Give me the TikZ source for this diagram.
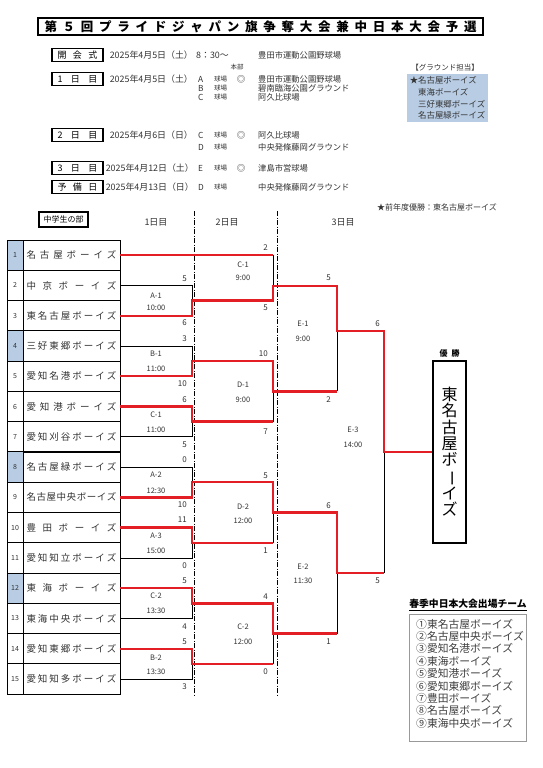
\documentclass[tikz,border=0pt]{standalone}
\usepackage{fontspec}
\setmainfont{Noto Sans CJK JP}
\usetikzlibrary{positioning}
\definecolor{RedW}{HTML}{E31E24}
\definecolor{BlueC}{HTML}{B8CCE4}
\definecolor{GrayT}{HTML}{333333}
\def\spreadfirst#1{#1\spreadrest}
\def\spreadrest#1{\ifx\relax#1\else\hfil#1\expandafter\spreadrest\fi}
\newcommand\spreadtext[2]{\makebox[#1][s]{\spreadfirst#2\relax}}
\tikzset{
  titlebox/.style={draw, line width=1.1pt, minimum width=445pt, minimum height=17pt, inner sep=0pt, font=\bfseries\fontsize{12.5}{13}\selectfont},
  daybox/.style={draw, line width=1.2pt, minimum width=51pt, minimum height=13pt, inner sep=0pt, font=\fontsize{9}{9}\selectfont},
  info/.style={anchor=west, inner sep=0pt, font=\fontsize{8.3}{9}\selectfont, text=GrayT},
  dateinfo/.style={info, font=\fontsize{8.9}{9}\selectfont},
  small/.style={inner sep=0pt, font=\fontsize{6.5}{7}\selectfont, text=GrayT},
  hqmark/.style={inner sep=0pt, font=\fontsize{8.5}{9}\selectfont, text=GrayT},
  gbox/.style={fill=BlueC, align=left, minimum width=81pt, minimum height=48pt, inner sep=1pt, font=\fontsize{8.4}{11.7}\selectfont, text=GrayT},
  namecell/.style={draw, line width=0.8pt, minimum width=97pt, minimum height=30.27pt, inner sep=0pt, font=\fontsize{9.5}{10}\selectfont, text=GrayT},
  numcell/.style={draw, line width=0.8pt, minimum width=16pt, minimum height=30.27pt, inner sep=0pt, font=\fontsize{7}{7}\selectfont, text=GrayT},
  seed/.style={fill=BlueC},
  head/.style={inner sep=0pt, font=\fontsize{9}{9}\selectfont, text=GrayT},
  lost/.style={draw=black, line width=0.7pt},
  won/.style={draw=RedW, line width=2.4pt, line join=miter},
  daysep/.style={draw=black, line width=0.6pt, dash pattern=on 5pt off 1.5pt on 1pt off 1.5pt},
  score/.style={anchor=east, inner sep=0pt, font=\fontsize{8}{8}\selectfont, text=GrayT},
  mlab/.style={inner sep=0pt, font=\fontsize{7.5}{8}\selectfont, text=GrayT},
  champ/.style={draw, line width=1.6pt, minimum width=33pt, minimum height=182pt, inner sep=0pt, align=center, font=\fontsize{16}{16.2}\selectfont},
  listbox/.style={draw=black!40, line width=0.6pt, minimum width=117pt, minimum height=127pt},
  listtxt/.style={anchor=west, align=left, inner sep=0pt, font=\fontsize{10.8}{12.4}\selectfont, text=black!75}
}

\begin{document}
\begin{tikzpicture}[x=1pt, y=-1pt]
  \useasboundingbox (0,0) rectangle (543,768);
  \fill[white] (0,0) rectangle (543,768);

  % title
  \node[titlebox] (title) at (260.5,26.5) {\spreadtext{432pt}{第５回プライドジャパン旗争奪大会兼中日本大会予選}};

  % schedule
  \node[daybox] (d0) at (77.5,55) {\spreadtext{40pt}{開会式}};
  \node[dateinfo, right=6pt of d0] (dt0) {2025年4月5日（土）};
  \node[dateinfo] (tm0) at (196,55) {8：30～};
  \node[info] (v0) at (258,55) {豊田市運動公園野球場};
  \node[small] (hq) at (237,67) {本部};

  \node[daybox] (d1) at (77.5,79) {\spreadtext{40pt}{1日目}};
  \node[dateinfo, right=6pt of d1] (dt1) {2025年4月5日（土）};
  \node[info] (f1a) at (198,79) {A};
  \node[small, anchor=west] (k1a) at (214,79) {球場};
  \node[hqmark] (m1) at (241,79) {◎};
  \node[info] (v1a) at (258,79) {豊田市運動公園野球場};
  \node[info] (f1b) at (198,88) {B};
  \node[small, anchor=west] (k1b) at (214,88) {球場};
  \node[info] (v1b) at (258,88) {碧南臨海公園グラウンド};
  \node[info] (f1c) at (198,97) {C};
  \node[small, anchor=west] (k1c) at (214,97) {球場};
  \node[info] (v1c) at (258,97) {阿久比球場};

  \node[daybox] (d2) at (77.5,135) {\spreadtext{40pt}{2日目}};
  \node[dateinfo, right=6pt of d2] (dt2) {2025年4月6日（日）};
  \node[info] (f2c) at (198,135) {C};
  \node[small, anchor=west] (k2c) at (214,135) {球場};
  \node[hqmark] (m2) at (241,135) {◎};
  \node[info] (v2c) at (258,135) {阿久比球場};
  \node[info] (f2d) at (198,147) {D};
  \node[small, anchor=west] (k2d) at (214,147) {球場};
  \node[info] (v2d) at (258,147) {中央発條藤岡グラウンド};

  \node[daybox] (d3) at (77.5,168) {\spreadtext{40pt}{3日目}};
  \node[dateinfo, right=2pt of d3] (dt3) {2025年4月12日（土）};
  \node[info] (f3e) at (198,168) {E};
  \node[small, anchor=west] (k3e) at (214,168) {球場};
  \node[hqmark] (m3) at (241,168) {◎};
  \node[info] (v3e) at (258,168) {津島市営球場};

  \node[daybox] (d4) at (77.5,187) {\spreadtext{40pt}{予備日}};
  \node[dateinfo, right=2pt of d4] (dt4) {2025年4月13日（日）};
  \node[info] (f4d) at (198,187) {D};
  \node[small, anchor=west] (k4d) at (214,187) {球場};
  \node[info] (v4d) at (258,187) {中央発條藤岡グラウンド};

  % ground duty
  \node[gbox] (grnd) at (447.5,98) {★名古屋ボーイズ\\\hspace*{1em}東海ボーイズ\\\hspace*{1em}三好東郷ボーイズ\\\hspace*{1em}名古屋緑ボーイズ};
  \node[inner sep=0pt, font=\fontsize{7.5}{8}\selectfont, text=GrayT] (gtitle) at (445,68) {【グラウンド担当】};
  \node[inner sep=0pt, font=\fontsize{8}{8}\selectfont, text=GrayT, anchor=east] (prev) at (497,207) {★前年度優勝：東名古屋ボーイズ};

  % bracket head
  \node[draw, line width=1.5pt, minimum width=49pt, minimum height=15pt, inner sep=0pt, font=\fontsize{8}{8}\selectfont] (bu) at (63.5,219.5) {中学生の部};
  \node[head] (h1) at (156,222) {1日目};
  \node[head] (h2) at (227,222) {2日目};
  \node[head] (h3) at (343,222) {3日目};
  \coordinate (s1t) at (194,211);
  \coordinate (s1b) at (194,697);
  \coordinate (s2t) at (277,211);
  \coordinate (s2b) at (277,697);
  \draw[daysep] (s1t) -- (s1b);
  \draw[daysep] (s2t) -- (s2b);

  % teams
  \node[numcell, seed] (n1) at (15,255.1) {1};
  \node[numcell] (n2) at (15,285.4) {2};
  \node[numcell] (n3) at (15,315.7) {3};
  \node[numcell, seed] (n4) at (15,346.0) {4};
  \node[numcell] (n5) at (15,376.2) {5};
  \node[numcell] (n6) at (15,406.5) {6};
  \node[numcell] (n7) at (15,436.8) {7};
  \node[numcell, seed] (n8) at (15,467.0) {8};
  \node[numcell] (n9) at (15,497.3) {9};
  \node[numcell] (n10) at (15,527.6) {10};
  \node[numcell] (n11) at (15,557.9) {11};
  \node[numcell, seed] (n12) at (15,588.1) {12};
  \node[numcell] (n13) at (15,618.4) {13};
  \node[numcell] (n14) at (15,648.7) {14};
  \node[numcell] (n15) at (15,678.9) {15};

  \node[namecell] (t1) at (71.5,255.1) {\spreadtext{90pt}{名古屋ボーイズ}};
  \node[namecell] (t2) at (71.5,285.4) {\spreadtext{90pt}{中京ボーイズ}};
  \node[namecell] (t3) at (71.5,315.7) {\spreadtext{90pt}{東名古屋ボーイズ}};
  \node[namecell] (t4) at (71.5,346.0) {\spreadtext{90pt}{三好東郷ボーイズ}};
  \node[namecell] (t5) at (71.5,376.2) {\spreadtext{90pt}{愛知名港ボーイズ}};
  \node[namecell] (t6) at (71.5,406.5) {\spreadtext{90pt}{愛知港ボーイズ}};
  \node[namecell] (t7) at (71.5,436.8) {\spreadtext{90pt}{愛知刈谷ボーイズ}};
  \node[namecell] (t8) at (71.5,467.0) {\spreadtext{90pt}{名古屋緑ボーイズ}};
  \node[namecell] (t9) at (71.5,497.3) {\spreadtext{90pt}{名古屋中央ボーイズ}};
  \node[namecell] (t10) at (71.5,527.6) {\spreadtext{90pt}{豊田ボーイズ}};
  \node[namecell] (t11) at (71.5,557.9) {\spreadtext{90pt}{愛知知立ボーイズ}};
  \node[namecell] (t12) at (71.5,588.1) {\spreadtext{90pt}{東海ボーイズ}};
  \node[namecell] (t13) at (71.5,618.4) {\spreadtext{90pt}{東海中央ボーイズ}};
  \node[namecell] (t14) at (71.5,648.7) {\spreadtext{90pt}{愛知東郷ボーイズ}};
  \node[namecell] (t15) at (71.5,678.9) {\spreadtext{90pt}{愛知知多ボーイズ}};

  % champion
  \node[champ] (champ) at (449.5,452) {東\\名\\古\\屋\\ボ\\\rotatebox[origin=c]{-90}{ー}\\イ\\ズ};
  \node[inner sep=0pt, font=\bfseries\fontsize{8}{8}\selectfont, above=3pt of champ] (yusho) {優\hspace{4pt}勝};

  % bracket points
  \coordinate (pA1t) at (192,285.4);
  \coordinate (pA1b) at (192,315.7);
  \coordinate (pA1o) at (192,300.5);
  \coordinate (pB1t) at (192,346.0);
  \coordinate (pB1b) at (192,376.2);
  \coordinate (pB1o) at (192,361.1);
  \coordinate (pC1t) at (192,406.5);
  \coordinate (pC1b) at (192,436.8);
  \coordinate (pC1o) at (192,421.6);
  \coordinate (pA2t) at (192,467.0);
  \coordinate (pA2b) at (192,497.3);
  \coordinate (pA2o) at (192,482.2);
  \coordinate (pA3t) at (192,527.6);
  \coordinate (pA3b) at (192,557.9);
  \coordinate (pA3o) at (192,542.7);
  \coordinate (pC2t) at (192,588.1);
  \coordinate (pC2b) at (192,618.4);
  \coordinate (pC2o) at (192,603.3);
  \coordinate (pB2t) at (192,648.7);
  \coordinate (pB2b) at (192,678.9);
  \coordinate (pB2o) at (192,663.8);

  \coordinate (qC1t) at (273,255.1);
  \coordinate (qC1b) at (273,300.5);
  \coordinate (qC1o) at (273,286);
  \coordinate (qD1t) at (273,361.1);
  \coordinate (qD1b) at (273,421.6);
  \coordinate (qD1o) at (273,391.4);
  \coordinate (qD2t) at (273,482.2);
  \coordinate (qD2b) at (273,542.7);
  \coordinate (qD2o) at (273,512.5);
  \coordinate (qC2t) at (273,603.3);
  \coordinate (qC2b) at (273,663.8);
  \coordinate (qC2o) at (273,633.5);

  \coordinate (rE1t) at (337,286);
  \coordinate (rE1b) at (337,391.4);
  \coordinate (rE1o) at (337,331);
  \coordinate (rE2t) at (337,512.5);
  \coordinate (rE2b) at (337,633.5);
  \coordinate (rE2o) at (337,573);
  \coordinate (rE3t) at (384,331);
  \coordinate (rE3b) at (384,573);
  \coordinate (rE3o) at (384,452);

  % bracket lines
  \draw[lost] (t2.east) -- (pA1t) -- (pA1b) -- (t3.east);
  \draw[lost] (t4.east) -- (pB1t) -- (pB1b) -- (t5.east);
  \draw[lost] (t6.east) -- (pC1t) -- (pC1b) -- (t7.east);
  \draw[lost] (t8.east) -- (pA2t) -- (pA2b) -- (t9.east);
  \draw[lost] (t10.east) -- (pA3t) -- (pA3b) -- (t11.east);
  \draw[lost] (t12.east) -- (pC2t) -- (pC2b) -- (t13.east);
  \draw[lost] (t14.east) -- (pB2t) -- (pB2b) -- (t15.east);
  \draw[lost] (qC1t) -- (qC1b);
  \draw[lost] (qD1t) -- (qD1b);
  \draw[lost] (qD2t) -- (qD2b);
  \draw[lost] (qC2t) -- (qC2b);
  \draw[lost] (rE1t) -- (rE1b);
  \draw[lost] (rE2t) -- (rE2b);
  \draw[lost] (rE3t) -- (rE3b);

  % winners
  \draw[won] (t1.east) -- (qC1t);
  \draw[won] (t3.east) -- (pA1b) -- (pA1o) -- (qC1b) -- (qC1o) -- (rE1t) -- (rE1o) -- (rE3t) -- (rE3o) -- (champ.west);
  \draw[won] (t5.east) -- (pB1b) -- (pB1o) -- (qD1t) -- (qD1o) -- (rE1b);
  \draw[won] (t6.east) -- (pC1t) -- (pC1o) -- (qD1b);
  \draw[won] (t9.east) -- (pA2b) -- (pA2o) -- (qD2t) -- (qD2o) -- (rE2t) -- (rE2o) -- (rE3b);
  \draw[won] (t10.east) -- (pA3t) -- (pA3o) -- (qD2b);
  \draw[won] (t12.east) -- (pC2t) -- (pC2o) -- (qC2t) -- (qC2o) -- (rE2b);
  \draw[won] (t14.east) -- (pB2t) -- (pB2o) -- (qC2b);

  % day 1 games
  \node[score] (sA1a) at (187,279) {5};
  \node[score] (sA1b) at (187,323) {6};
  \node[mlab] (lA1) at (156,296) {A-1};
  \node[mlab] (tA1) at (156,308) {10:00};
  \node[score] (sB1a) at (187,339) {3};
  \node[score] (sB1b) at (187,384) {10};
  \node[mlab] (lB1) at (156,354) {B-1};
  \node[mlab] (tB1) at (156,369) {11:00};
  \node[score] (sC1a) at (187,400) {6};
  \node[score] (sC1b) at (187,445) {5};
  \node[mlab] (lC1) at (156,415) {C-1};
  \node[mlab] (tC1) at (156,430) {11:00};
  \node[score] (sA2a) at (187,460) {0};
  \node[score] (sA2b) at (187,505) {10};
  \node[mlab] (lA2) at (156,475) {A-2};
  \node[mlab] (tA2) at (156,491) {12:30};
  \node[score] (sA3a) at (187,520) {11};
  \node[score] (sA3b) at (187,566) {0};
  \node[mlab] (lA3) at (156,536) {A-3};
  \node[mlab] (tA3) at (156,551) {15:00};
  \node[score] (sC2a) at (187,581) {5};
  \node[score] (sC2b) at (187,627) {4};
  \node[mlab] (lC2) at (156,596) {C-2};
  \node[mlab] (tC2) at (156,611) {13:30};
  \node[score] (sB2a) at (187,642) {5};
  \node[score] (sB2b) at (187,687) {3};
  \node[mlab] (lB2) at (156,658) {B-2};
  \node[mlab] (tB2) at (156,672) {13:30};

  % day 2 games
  \node[score] (sqC1a) at (268,248) {2};
  \node[score] (sqC1b) at (268,308) {5};
  \node[mlab] (lqC1) at (243,265) {C-1};
  \node[mlab] (tqC1) at (243,278) {9:00};
  \node[score] (sqD1a) at (268,354) {10};
  \node[score] (sqD1b) at (268,432) {7};
  \node[mlab] (lqD1) at (243,385) {D-1};
  \node[mlab] (tqD1) at (243,400) {9:00};
  \node[score] (sqD2a) at (268,476) {5};
  \node[score] (sqD2b) at (268,551) {1};
  \node[mlab] (lqD2) at (243,507) {D-2};
  \node[mlab] (tqD2) at (243,521) {12:00};
  \node[score] (sqC2a) at (268,597) {4};
  \node[score] (sqC2b) at (268,672) {0};
  \node[mlab] (lqC2) at (243,627) {C-2};
  \node[mlab] (tqC2) at (243,642) {12:00};

  % day 3 games
  \node[score] (sE1a) at (331,278) {5};
  \node[score] (sE1b) at (331,400) {2};
  \node[mlab] (lE1) at (303,324) {E-1};
  \node[mlab] (tE1) at (303,339) {9:00};
  \node[score] (sE2a) at (331,506) {6};
  \node[score] (sE2b) at (331,642) {1};
  \node[mlab] (lE2) at (303,567) {E-2};
  \node[mlab] (tE2) at (303,581) {11:30};
  \node[score] (sE3a) at (380,324) {6};
  \node[score] (sE3b) at (380,581) {5};
  \node[mlab] (lE3) at (353,430) {E-3};
  \node[mlab] (tE3) at (353,445) {14:00};

  % spring teams
  \node[inner sep=0pt, font=\bfseries\fontsize{9.8}{10}\selectfont] (lhead) at (468,605) {\underline{春季中日本大会出場チーム}};
  \node[listbox] (lbox) at (467.5,677.5) {};
  \node[listtxt] (lst) at (416,673.6) {①東名古屋ボーイズ\\②名古屋中央ボーイズ\\③愛知名港ボーイズ\\④東海ボーイズ\\⑤愛知港ボーイズ\\⑥愛知東郷ボーイズ\\⑦豊田ボーイズ\\⑧名古屋ボーイズ\\⑨東海中央ボーイズ};
\end{tikzpicture}
\end{document}
